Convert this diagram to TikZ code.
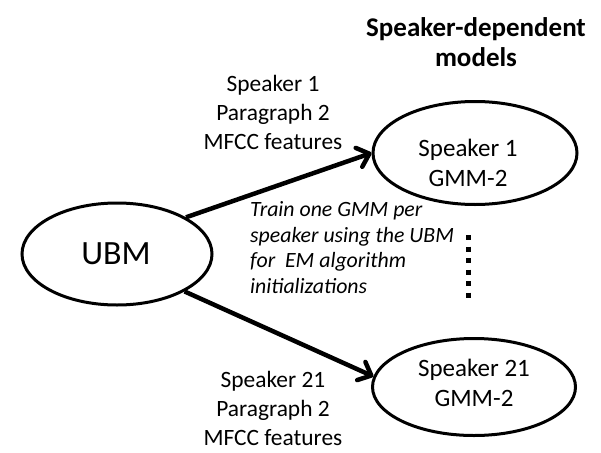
\documentclass[tikz,border=0pt]{standalone}
\usepackage{fontspec}
\setmainfont{Carlito}
\usetikzlibrary{shapes.geometric,arrows.meta}
\begin{document}
\begin{tikzpicture}[x=1pt,y=1pt,
  model/.style={ellipse,draw=black,line width=3pt,inner sep=0pt},
  inlabel/.style={align=center,inner sep=0pt,font=\fontsize{25}{30.5}\selectfont},
  sidelabel/.style={align=center,inner sep=0pt,font=\fontsize{23.4}{29}\selectfont},
  arrowline/.style={line width=4.5pt,-{Straight Barb[length=11pt,width=20pt,line cap=round,line join=round]}}
]
\useasboundingbox (0,0) rectangle (601,-452);
% title
\node[align=center,inner sep=0pt,font=\fontsize{27}{30}\selectfont\bfseries] (title) at (476,-42) {Speaker-dependent\\models};
% ellipses
\node[model,minimum width=190pt,minimum height=102pt] (ubm) at (117,-254) {};
\node[inner sep=0pt,font=\fontsize{34}{40}\selectfont] (ubmt) at (116,-254) {UBM};
\node[model,minimum width=204pt,minimum height=103pt] (s1) at (475,-153) {};
\node[inlabel] (s1t) at (468,-163) {Speaker 1\\GMM-2};
\node[model,minimum width=203pt,minimum height=97pt] (s21) at (474,-387) {};
\node[inlabel] (s21t) at (474,-383) {Speaker 21\\GMM-2};
% side labels
\node[sidelabel] (l1) at (273,-112) {Speaker 1\\Paragraph 2\\MFCC features};
\node[sidelabel] (l21) at (273,-408) {Speaker 21\\Paragraph 2\\MFCC features};
% italic note
\node[align=left,inner sep=0pt,anchor=north west,font=\fontsize{21.8}{25.8}\selectfont\itshape] (note) at (250,-201) {Train one GMM per\\speaker using the UBM\\for~ EM algorithm\\initializations};
% dots
\draw[line width=5pt,dash pattern=on 5pt off 6.5pt] (468,-235) -- (468,-297.5);
% arrows
\draw[arrowline] (ubm.28) -- (s1.west);
\draw[arrowline] (ubm.-29) -- (s21.174);
\end{tikzpicture}
\end{document}
